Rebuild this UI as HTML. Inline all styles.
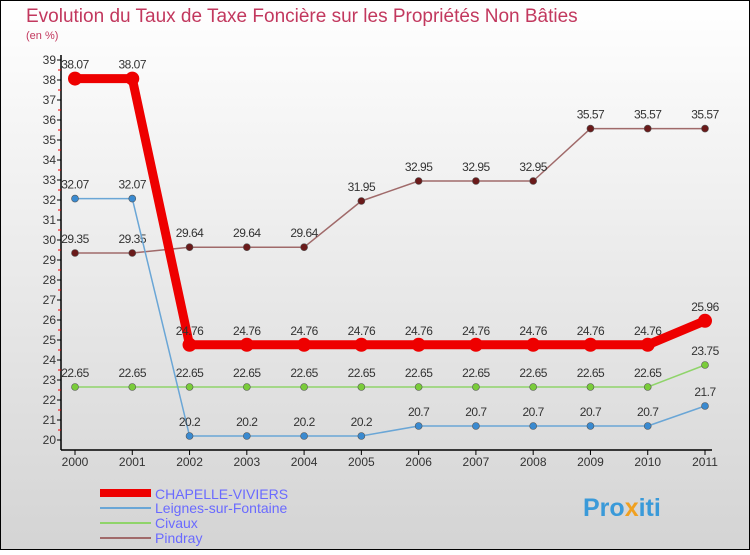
<!DOCTYPE html>
<html><head><meta charset="utf-8"><style>
body{margin:0;width:750px;height:550px;overflow:hidden;font-family:"Liberation Sans",sans-serif}
</style></head><body>
<svg id="c" width="750" height="550" xmlns="http://www.w3.org/2000/svg">
<defs><linearGradient id="bg" x1="0" y1="0" x2="0" y2="1"><stop offset="0" stop-color="#ffffff"/><stop offset="1" stop-color="#d4d4d4"/></linearGradient></defs>
<rect x="0.5" y="0.5" width="749" height="549" fill="url(#bg)" stroke="#000"/>
<text x="26" y="22" font-size="19" fill="#c2385e">Evolution du Taux de Taxe Foncière sur les Propriétés Non Bâties</text>
<text x="26" y="39" font-size="11" fill="#c2385e">(en %)</text>
<g id="axes"></g><g id="series"></g>
<g>
<rect x="100" y="489" width="51" height="8" fill="#ee0000"/>
<text x="155" y="499" font-size="14" fill="#6a6aff">CHAPELLE-VIVIERS</text>
<line x1="100" y1="508" x2="151" y2="508" stroke="#6aa6d6" stroke-width="2"/>
<text x="155" y="513" font-size="14" fill="#6a6aff">Leignes-sur-Fontaine</text>
<line x1="100" y1="523" x2="151" y2="523" stroke="#8fd46a" stroke-width="2"/>
<text x="155" y="528" font-size="14" fill="#6a6aff">Civaux</text>
<line x1="100" y1="538" x2="151" y2="538" stroke="#a06a6a" stroke-width="2"/>
<text x="155" y="543" font-size="14" fill="#6a6aff">Pindray</text>
</g>
<text x="583" y="516" font-size="25" font-weight="bold" fill="#3a9ad9">Pro<tspan fill="#f0a020">x</tspan>iti</text>
</svg>
<script>
const years=[2000,2001,2002,2003,2004,2005,2006,2007,2008,2009,2010,2011];
const chapelle=[38.07,38.07,24.76,24.76,24.76,24.76,24.76,24.76,24.76,24.76,24.76,25.96];
const leignes=[32.07,32.07,20.2,20.2,20.2,20.2,20.7,20.7,20.7,20.7,20.7,21.7];
const civaux=[22.65,22.65,22.65,22.65,22.65,22.65,22.65,22.65,22.65,22.65,22.65,23.75];
const pindray=[29.35,29.35,29.64,29.64,29.64,31.95,32.95,32.95,32.95,35.57,35.57,35.57];
const yTicks=[20,21,22,23,24,25,26,27,28,29,30,31,32,33,34,35,36,37,38,39];
const NS="http://www.w3.org/2000/svg";
const xs=i=>75+i*(630/11);
const ys=v=>440-(v-20)*20;
function mk(tag,a,p){const e=document.createElementNS(NS,tag);for(const k in a)e.setAttribute(k,a[k]);p.appendChild(e);return e;}
const ax=document.getElementById('axes');
mk('line',{x1:61,y1:55,x2:61,y2:450,stroke:'#000','stroke-width':1.5},ax);
mk('line',{x1:61,y1:450,x2:712,y2:450,stroke:'#000','stroke-width':1.5},ax);
yTicks.forEach(t=>{
 mk('line',{x1:57,y1:ys(t),x2:61,y2:ys(t),stroke:'#000'},ax);
 if(t<39)mk('line',{x1:58,y1:ys(t+0.5),x2:61,y2:ys(t+0.5),stroke:'#e00'},ax);
 const tx=mk('text',{x:56,y:ys(t)+4,'font-size':12,fill:'#333','text-anchor':'end'},ax);
 tx.textContent=t;
 
 
});
years.forEach((y,i)=>{
 mk('line',{x1:xs(i),y1:450,x2:xs(i),y2:455,stroke:'#000'},ax);
 const tx=mk('text',{x:xs(i),y:466,'font-size':12,fill:'#333','text-anchor':'middle'},ax);
 tx.textContent=y;
 
 
});
const sg=document.getElementById('series');
function draw(name,vals,color,w,r,mcol){
 const g=mk('g',{},sg);
 
 
 mk('polyline',{points:vals.map((v,i)=>xs(i)+','+ys(v)).join(' '),fill:'none',stroke:color,'stroke-width':w,'stroke-linejoin':'round'},g);
 vals.forEach((v,i)=>{
  const c=mk('circle',{cx:xs(i),cy:ys(v),r:r,fill:mcol,stroke:w>3?'none':'#555','stroke-width':0.6},g);
  
  
  const t=mk('text',{x:xs(i),y:ys(v)-10,'font-size':12,fill:'#333','text-anchor':'middle','letter-spacing':'-0.5'},g);
  t.textContent=String(v).replace('.', '.');
  
  
 });
}
draw('pindray',pindray,'#a06a6a',1.5,3.5,'#6a1a1a');
draw('civaux',civaux,'#8fd46a',1.5,3.5,'#7acc3a');
draw('leignes',leignes,'#6aa6d6',1.5,3.5,'#3a8ad0');
draw('chapelle',chapelle,'#ee0000',9,7,'#ee0000');
</script>
</body></html>
